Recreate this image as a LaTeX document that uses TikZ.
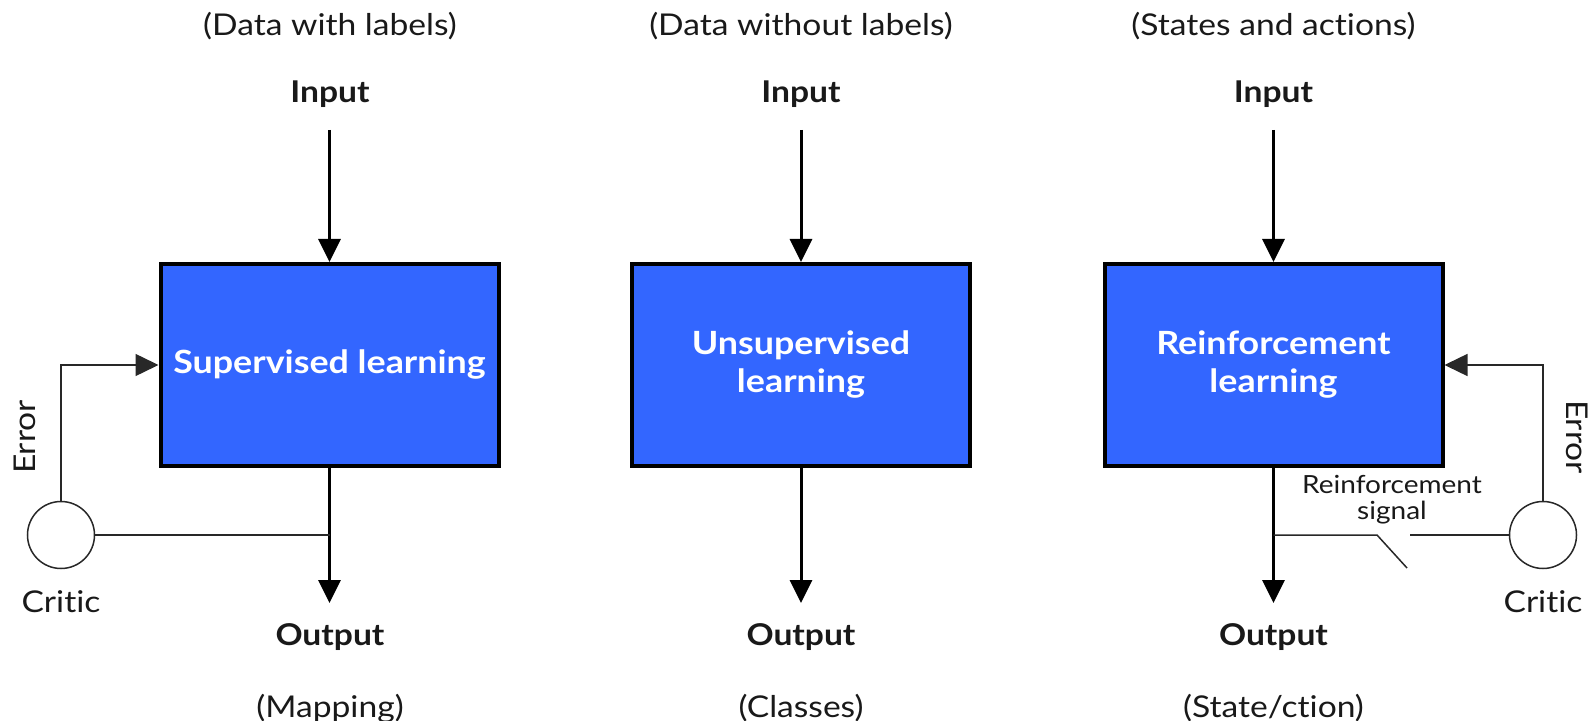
\documentclass[tikz,border=0pt]{standalone}
\usepackage{fontspec}
\setmainfont{Lato}[FakeStretch=1.12, Ligatures=NoCommon]
\usetikzlibrary{arrows.meta}
\definecolor{boxblue}{RGB}{51,102,255}
\definecolor{txt}{RGB}{25,25,25}
\definecolor{thinline}{RGB}{40,40,40}
\begin{document}
\begin{tikzpicture}[x=0.5pt,y=-0.5pt,
  learnbox/.style={draw=black, line width=2pt, fill=boxblue, minimum width=169pt, minimum height=101pt, inner sep=0pt, text=white, font=\fontsize{16}{19}\selectfont\bfseries, align=center},
  lbl/.style={anchor=base, text=txt, inner sep=0pt, font=\fontsize{15}{18}\selectfont},
  blbl/.style={anchor=base, text=txt, inner sep=0pt, font=\fontsize{15}{18}\selectfont\bfseries},
  mainarrow/.style={line width=1.5pt, -{Triangle[length=11.5pt,width=11pt]}},
  thinarrow/.style={draw=thinline, line width=0.75pt, -{Triangle[length=11.5pt,width=11pt]}},
  thinpath/.style={draw=thinline, line width=0.75pt},
  critic/.style={circle, draw=thinline, line width=0.75pt, fill=white, minimum size=33.5pt, inner sep=0pt},
  small/.style={text=txt, inner sep=0pt, align=center, font=\fontsize{12.5}{13}\selectfont}]
\useasboundingbox (0,0) rectangle (1590,721);

% column 1
\node[lbl] (top1) at (330,36) {(Data with labels)};
\node[blbl] (in1) at (330,103) {Input};
\node[learnbox] (sup) at (329.5,365) {Supervised learning};
\node[blbl] (out1) at (330,645) {Output};
\node[lbl] (bot1) at (330,717) {(Mapping)};
\coordinate (in1a) at (329.5,130);
\coordinate (out1a) at (329.5,603);
\draw[mainarrow] (in1a) -- (sup.north);
\draw[mainarrow] (sup.south) -- (out1a);
\node[critic] (c1) at (61,535) {};
\node[lbl] (cr1) at (61,612) {Critic};
\node[text=txt, inner sep=0pt, rotate=90, font=\fontsize{15}{18}\selectfont] (err1) at (25,437) {Error};
\draw[thinarrow] (c1.north) |- (sup.west);
\draw[thinpath] (c1.east) -- (c1.east -| sup.south);

% column 2
\node[lbl] (top2) at (801,36) {(Data without labels)};
\node[blbl] (in2) at (801,103) {Input};
\node[learnbox] (unsup) at (801,365) {Unsupervised\\learning};
\node[blbl] (out2) at (801,645) {Output};
\node[lbl] (bot2) at (801,717) {(Classes)};
\coordinate (in2a) at (801,130);
\coordinate (out2a) at (801,603);
\draw[mainarrow] (in2a) -- (unsup.north);
\draw[mainarrow] (unsup.south) -- (out2a);

% column 3
\node[lbl] (top3) at (1273.5,36) {(States and actions)};
\node[blbl] (in3) at (1273.5,103) {Input};
\node[learnbox] (rl) at (1273.5,365) {Reinforcement\\learning};
\node[blbl] (out3) at (1273.5,645) {Output};
\node[lbl] (bot3) at (1273.5,717) {(State/ction)};
\coordinate (in3a) at (1273.5,130);
\coordinate (out3a) at (1273.5,603);
\draw[mainarrow] (in3a) -- (rl.north);
\draw[mainarrow] (rl.south) -- (out3a);
\node[critic] (c3) at (1543,535) {};
\node[lbl] (cr3) at (1543,612) {Critic};
\node[text=txt, inner sep=0pt, rotate=-90, font=\fontsize{15}{18}\selectfont] (err3) at (1577,437) {Error};
\draw[thinarrow] (c3.north) |- (rl.east);
\coordinate (sw1) at (1377,535);
\coordinate (sw2) at (1407,568);
\coordinate (sw3) at (1410,535);
\draw[thinpath] (c3.west -| rl.south) -- (sw1) -- (sw2);
\draw[thinpath] (sw3) -- (c3.west);
\node[small] (rs) at (1392,500) {Reinforcement\\signal};
\end{tikzpicture}
\end{document}
